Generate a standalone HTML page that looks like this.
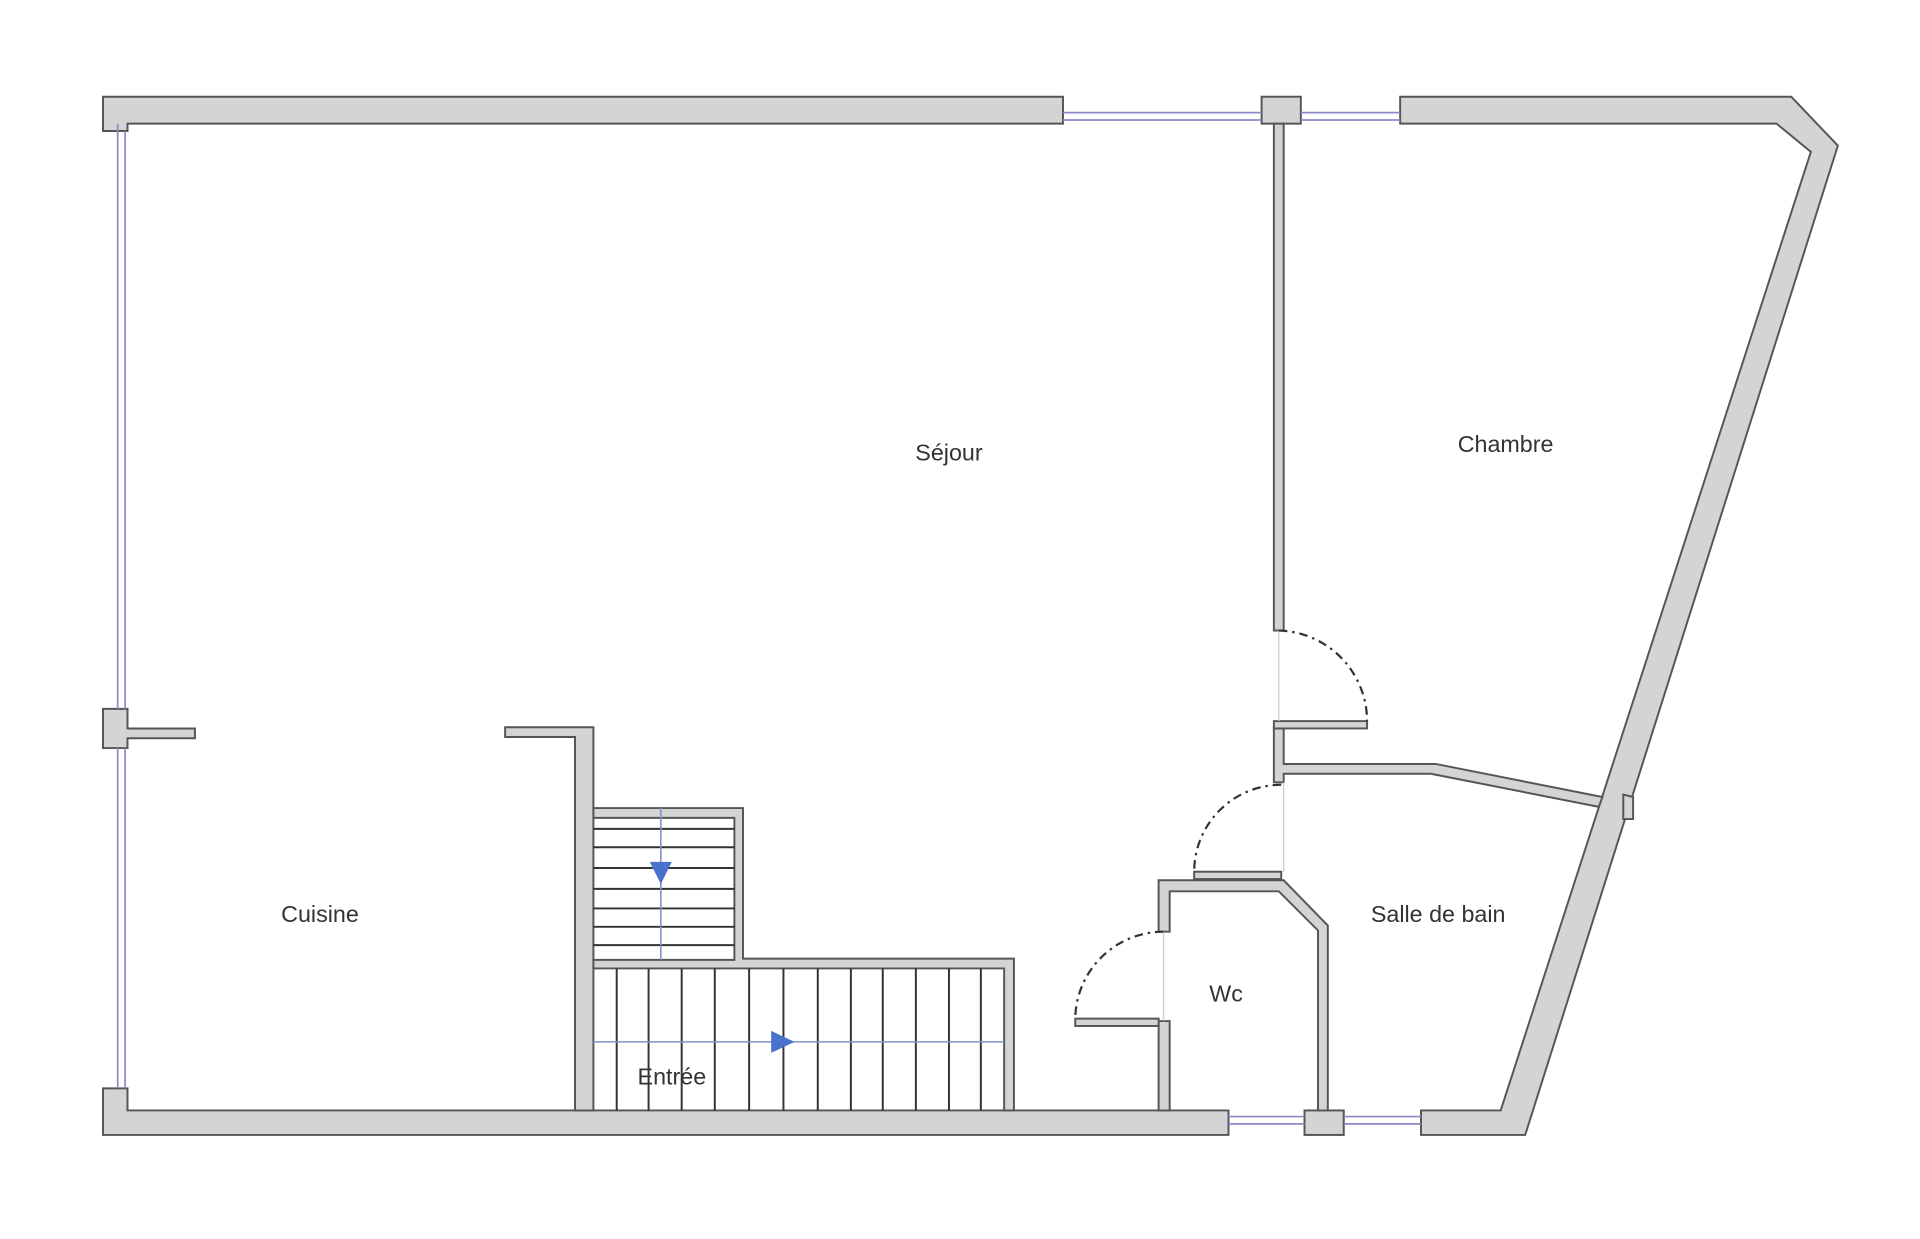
<!DOCTYPE html>
<html><head><meta charset="utf-8"><style>
html,body{margin:0;padding:0;background:#fff;}
svg{display:block;}
text{font-family:"Liberation Sans","DejaVu Sans",sans-serif;font-size:19px;fill:#333;}
</style></head><body>
<svg width="1920" height="1239" viewBox="1 1 1566 1012" preserveAspectRatio="none" xmlns="http://www.w3.org/2000/svg">
<g fill="#d4d4d4" stroke="#555" stroke-width="1.6">
<polygon points="85,80 868,80 868,102 105,102 105,108 85,108"/>
<rect x="1030" y="80" width="32" height="22"/>
<polygon points="1143,80 1462,80 1500,120 1245,928 1160,928 1160,908 1225,908 1478,125 1450,102 1143,102"/>
<polygon points="85,580 105,580 105,596 160,596 160,604 105,604 105,612 85,612"/>
<polygon points="85,890 105,890 105,908 1003,908 1003,928 85,928"/>
<rect x="1065" y="908" width="32" height="20"/>
<polygon points="1325,650 1333,652 1333,670 1325,670"/>
<polygon points="413,595 485,595 485,908 470,908 470,603 413,603"/>
<polygon points="485,661 607,661 607,784 828,784 828,908 820,908 820,792 485,792 485,785 600,785 600,669 485,669"/>
<rect x="1040" y="102" width="8" height="414"/>
<rect x="1040" y="590" width="76" height="6"/>
<polygon points="1040,596 1048,596 1048,625 1172,625 1308,652 1305,660 1168,633 1048,633 1048,640 1040,640"/>
<polygon points="946,720 1048,720 1084,757 1084,908 1076,908 1076,761 1044,729 955,729 955,762 946,762"/>
<rect x="975" y="713" width="71" height="6"/>
<polygon points="946,835 955,835 955,908 946,908"/>
<rect x="878" y="833" width="68" height="6"/>
</g>
<g stroke="#8a8ac8" stroke-width="1.4" fill="none">
<line x1="868" y1="93" x2="1030" y2="93"/><line x1="868" y1="99" x2="1030" y2="99"/>
<line x1="1062" y1="93" x2="1143" y2="93"/><line x1="1062" y1="99" x2="1143" y2="99"/>
<line x1="97" y1="102" x2="97" y2="580"/><line x1="103" y1="108" x2="103" y2="580"/>
<line x1="97" y1="612" x2="97" y2="890"/><line x1="103" y1="612" x2="103" y2="890"/>
<line x1="1003" y1="913" x2="1065" y2="913"/><line x1="1003" y1="919" x2="1065" y2="919"/>
<line x1="1097" y1="913" x2="1160" y2="913"/><line x1="1097" y1="919" x2="1160" y2="919"/>
</g>
<g stroke="#ccc" stroke-width="1">
<line x1="1044" y1="516" x2="1044" y2="590"/>
<line x1="1048" y1="640" x2="1048" y2="713"/>
<line x1="950" y1="762" x2="950" y2="835"/>
</g>
<g stroke="#333" stroke-width="1.8" fill="none" stroke-dasharray="7,4,2,4">
<path d="M1044,516 A74,74 0 0 1 1116,590"/>
<path d="M1046,642 A71,71 0 0 0 975,713"/>
<path d="M950,762 A72,72 0 0 0 878,833"/>
</g>
<g stroke="#333" stroke-width="1.6">
<line x1="485" y1="678" x2="600" y2="678"/>
<line x1="485" y1="693" x2="600" y2="693"/>
<line x1="485" y1="710" x2="600" y2="710"/>
<line x1="485" y1="727" x2="600" y2="727"/>
<line x1="485" y1="743" x2="600" y2="743"/>
<line x1="485" y1="758" x2="600" y2="758"/>
<line x1="485" y1="773" x2="600" y2="773"/>
<line x1="504" y1="792" x2="504" y2="908"/>
<line x1="530" y1="792" x2="530" y2="908"/>
<line x1="557" y1="792" x2="557" y2="908"/>
<line x1="584" y1="792" x2="584" y2="908"/>
<line x1="612" y1="792" x2="612" y2="908"/>
<line x1="640" y1="792" x2="640" y2="908"/>
<line x1="668" y1="792" x2="668" y2="908"/>
<line x1="695" y1="792" x2="695" y2="908"/>
<line x1="721" y1="792" x2="721" y2="908"/>
<line x1="748" y1="792" x2="748" y2="908"/>
<line x1="775" y1="792" x2="775" y2="908"/>
<line x1="801" y1="792" x2="801" y2="908"/>
</g>
<g stroke="#7f93c8" stroke-width="1.3">
<line x1="540" y1="661" x2="540" y2="785"/>
<line x1="485" y1="852" x2="820" y2="852"/>
</g>
<polygon points="531,705 549,705 540,723" fill="#4a72cc"/>
<polygon points="630,843 630,861 649,852" fill="#4a72cc"/>
<text x="775" y="377" text-anchor="middle">Séjour</text>
<text x="1229" y="370" text-anchor="middle">Chambre</text>
<text x="262" y="754" text-anchor="middle">Cuisine</text>
<text x="1174" y="754" text-anchor="middle">Salle de bain</text>
<text x="1001" y="819" text-anchor="middle">Wc</text>
<text x="549" y="887" text-anchor="middle">Entrée</text>
</svg>
</body></html>
